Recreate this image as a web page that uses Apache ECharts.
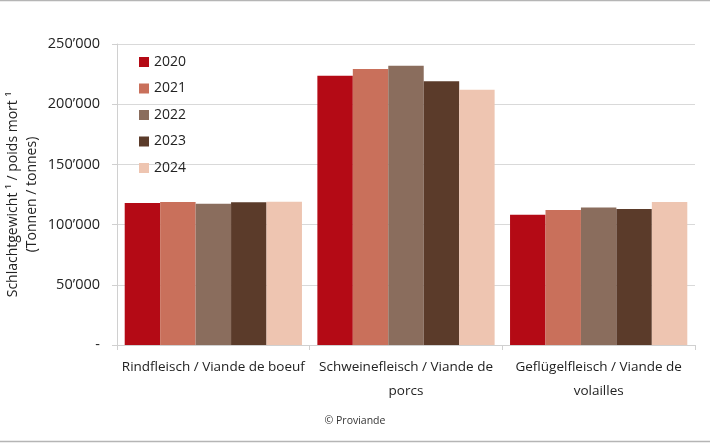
<!DOCTYPE html>
<html>
<head>
<meta charset="utf-8">
<script src="https://cdn.jsdelivr.net/npm/echarts@6/dist/echarts.min.js"></script>
<style>
html,body{margin:0;padding:0;background:#fff;}
#chart{width:710px;height:443px;}
</style>
</head>
<body>
<div id="chart"></div>
<script>
const categories = ['Rindfleisch / Viande de boeuf', 'Schweinefleisch / Viande de\nporcs', 'Geflügelfleisch / Viande de\nvolailles'];
const years = ['2020', '2021', '2022', '2023', '2024'];
const values2020 = [118000, 223700, 108200];
const values2021 = [118700, 229200, 112100];
const values2022 = [117300, 232000, 114300];
const values2023 = [118500, 219000, 113000];
const values2024 = [119000, 212100, 118800];
const yTicks = [0, 50000, 100000, 150000, 200000, 250000];
const colors = ['#B40A15', '#C9705B', '#8A6D5D', '#5B3B2A', '#EEC5B1'];

const allValues = [values2020, values2021, values2022, values2023, values2024];
const font = '"Open Sans", "Noto Sans", sans-serif';

function fmt(v) {
  if (v === 0) return '-';
  return String(v).replace(/\B(?=(\d{3})+(?!\d))/g, '\u2019');
}

const chart = echarts.init(document.getElementById('chart'));
chart.setOption({
  animation: false,
  textStyle: { fontFamily: font },
  color: colors,
  grid: { left: 117, right: 15, top: 44, bottom: 98, containLabel: false, outerBoundsMode: 'none' },
  legend: {
    orient: 'vertical',
    left: 134,
    top: 50,
    itemWidth: 10,
    itemHeight: 10,
    itemGap: 12.5,
    icon: 'rect',
    textStyle: { fontSize: 14, color: '#222', fontFamily: font },
    data: years
  },
  xAxis: {
    type: 'category',
    data: categories,
    axisLine: { lineStyle: { color: '#d0d0d0' } },
    axisTick: { show: true, length: 5, lineStyle: { color: '#d0d0d0' } },
    axisLabel: { fontSize: 13.5, color: '#222', lineHeight: 24, margin: 10, interval: 0, fontFamily: font }
  },
  yAxis: {
    type: 'value',
    min: 0,
    max: yTicks[yTicks.length - 1],
    interval: yTicks[1] - yTicks[0],
    name: 'Schlachtgewicht \u00B9 / poids mort \u00B9\n(Tonnen / tonnes)',
    nameLocation: 'middle',
    nameGap: 75,
    nameMoveOverlap: false,
    nameTextStyle: { fontSize: 14, color: '#222', lineHeight: 19, fontFamily: font },
    axisLine: { show: true, lineStyle: { color: '#d0d0d0' } },
    axisTick: { show: true, length: 5, lineStyle: { color: '#d0d0d0' } },
    splitLine: { lineStyle: { color: '#d9d9d9' } },
    axisLabel: { fontSize: 14.5, color: '#222', margin: 17, formatter: fmt, fontFamily: font }
  },
  series: years.map((y, i) => ({
    name: y,
    type: 'bar',
    data: allValues[i],
    barGap: '0%',
    barCategoryGap: '8%',
    itemStyle: { color: colors[i] }
  })),
  graphic: [
    { type: 'line', shape: { x1: 0, y1: 0.5, x2: 710, y2: 0.5 }, style: { stroke: '#b5b5b5', lineWidth: 1.5 } },
    { type: 'line', shape: { x1: 0, y1: 441.5, x2: 710, y2: 441.5 }, style: { stroke: '#b5b5b5', lineWidth: 1.5 } },
    { type: 'text', left: 'center', top: 416, style: { text: '\u00A9 Proviande', fontSize: 10.5, fill: '#333', fontFamily: font } }
  ]
});
</script>
</body>
</html>
